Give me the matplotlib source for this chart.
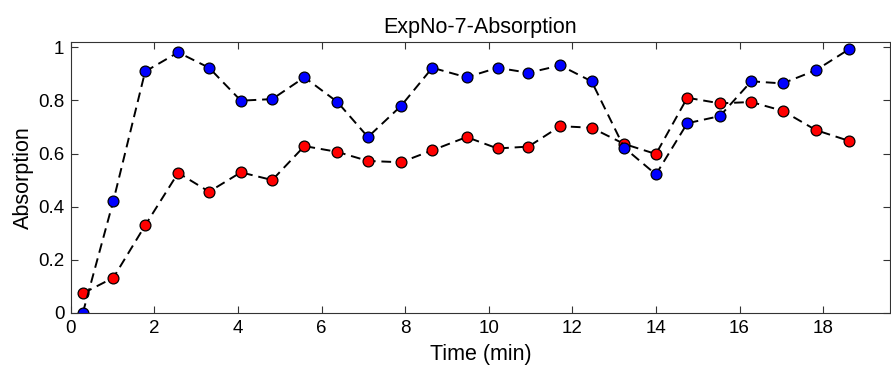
import matplotlib
matplotlib.use("Agg")
import matplotlib.pyplot as plt

# sample times (min)
time_min = [0.29, 1.02, 1.78, 2.57, 3.31, 4.07, 4.82, 5.59, 6.38, 7.11,
            7.90, 8.65, 9.47, 10.21, 10.95, 11.71, 12.46, 13.24, 14.00,
            14.75, 15.53, 16.28, 17.03, 17.83, 18.61]

# blue series
absorb_blue = [0.000, 0.422, 0.909, 0.981, 0.923, 0.799, 0.805, 0.887, 0.794,
               0.662, 0.779, 0.923, 0.887, 0.923, 0.904, 0.932, 0.872, 0.622,
               0.521, 0.714, 0.741, 0.872, 0.864, 0.914, 0.992]

# red series
absorb_red = [0.073, 0.132, 0.329, 0.527, 0.456, 0.529, 0.500, 0.628, 0.606,
              0.572, 0.567, 0.612, 0.662, 0.619, 0.626, 0.703, 0.697, 0.636,
              0.598, 0.810, 0.789, 0.794, 0.761, 0.688, 0.648]

x_ticks = [0, 2, 4, 6, 8, 10, 12, 14, 16, 18]
y_ticks = [0, 0.2, 0.4, 0.6, 0.8, 1]
y_labels = ['0', '0.2', '0.4', '0.6', '0.8', '1']

plt.rcParams['font.family'] = ['Liberation Sans', 'DejaVu Sans']

fig = plt.figure(figsize=(8.91, 3.71), dpi=100)
ax = fig.add_axes([0.0794, 0.157, 0.9195, 0.729])

for vals, col in [(absorb_red, 'red'), (absorb_blue, 'blue')]:
    ax.plot(time_min, vals, linestyle='--', color='black', linewidth=1.4,
            dashes=(5, 3), marker='o', markersize=7.8,
            markerfacecolor=col, markeredgecolor='black', markeredgewidth=0.9)

ax.set_xlim(0, 19.6)
ax.set_ylim(0, 1.019)
ax.set_xticks(x_ticks)
ax.set_yticks(y_ticks)
ax.set_yticklabels(y_labels)
ax.tick_params(direction='in', top=True, right=True, length=5,
               labelsize=13.5, width=0.8, color='#333333')
ax.tick_params(axis='x', pad=5)
ax.tick_params(axis='y', pad=4.5)
for sp in ax.spines.values():
    sp.set_linewidth(0.8)
    sp.set_color('#333333')

ax.set_title('ExpNo-7-Absorption', fontsize=15.5, pad=6.5)
ax.set_xlabel('Time (min)', fontsize=15.5, labelpad=5)
ax.set_ylabel('Absorption', fontsize=15.5, labelpad=3)

fig.savefig('out.png', dpi=100)
